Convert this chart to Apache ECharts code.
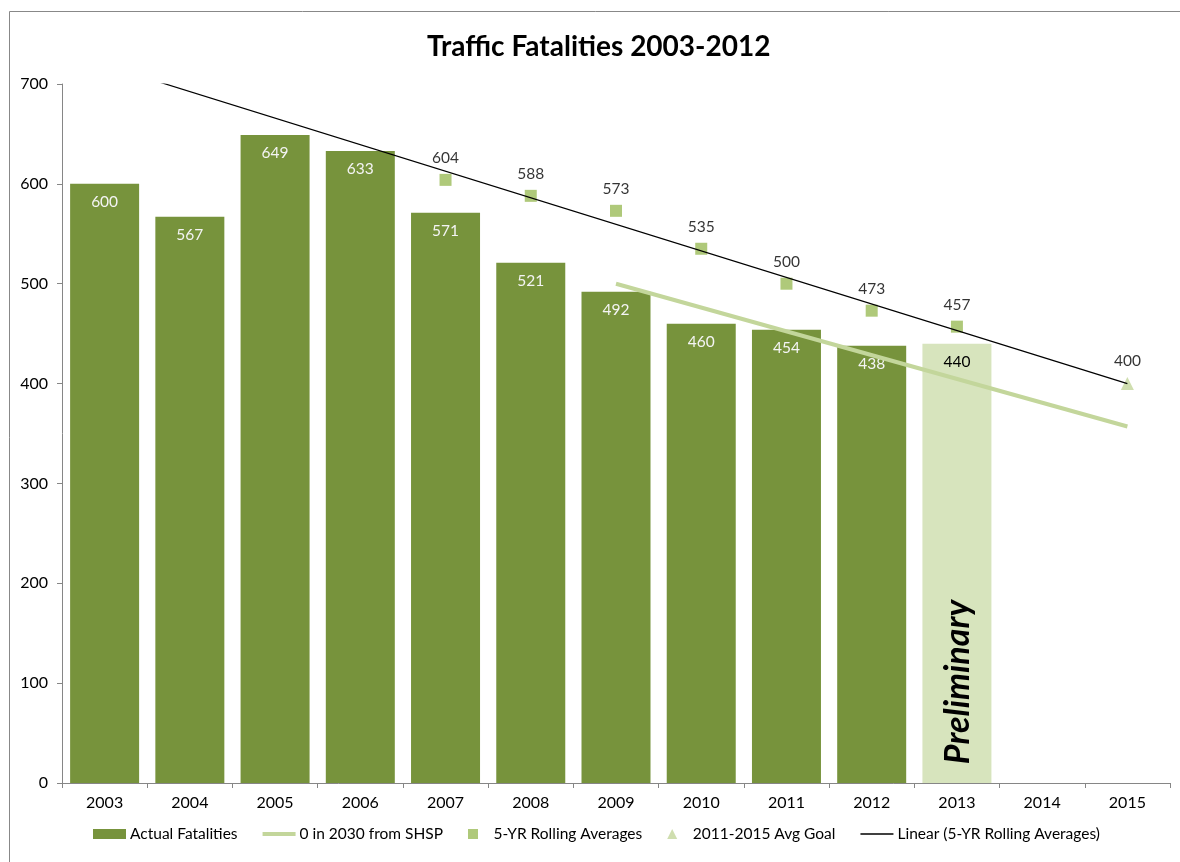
<!DOCTYPE html>
<html>
<head>
<meta charset="utf-8">
<script src="https://cdn.jsdelivr.net/npm/echarts@6/dist/echarts.min.js"></script>
<style>
html,body{margin:0;padding:0;background:#fff;}
#chart{width:1180px;height:862px;}
</style>
</head>
<body>
<div id="chart"></div>
<script>
// ---- data ----
const years = ['2003','2004','2005','2006','2007','2008','2009','2010','2011','2012','2013','2014','2015'];
const actualFatalities = [600, 567, 649, 633, 571, 521, 492, 460, 454, 438, null, null, null];
const preliminaryFatalities = [null, null, null, null, null, null, null, null, null, null, 440, null, null];
const rollingAverages = [null, null, null, null, 604, 588, 573, 535, 500, 473, 457, null, null];
const avgGoal = [null, null, null, null, null, null, null, null, null, null, null, null, 400];
// SHSP target line: read endpoints (2009 -> 2015)
const shspLine = [null, null, null, null, null, null, 500, null, null, null, null, null, 357];
// linear trend of the 5-yr averages: endpoints (clipped at top)
const trendLine = [[0, 719], [12, 400]];
const yTicks = [0, 100, 200, 300, 400, 500, 600, 700];

const FONT = 'Lato, "Open Sans", sans-serif';
const DARK = '#77933C';
const LIGHT = '#D7E4BD';
const SQUARE = '#9BBB59';
const SHSP = '#C3D69B';

const barData = actualFatalities.map((v, i) => {
  if (v != null) return v;
  if (preliminaryFatalities[i] != null) {
    return { value: preliminaryFatalities[i], itemStyle: { color: LIGHT }, label: { color: '#000' } };
  }
  return null;
});

const chart = echarts.init(document.getElementById('chart'));
chart.setOption({
  animation: false,
  backgroundColor: '#fff',
  textStyle: { fontFamily: FONT },
  title: {
    text: 'Traffic Fatalities 2003-2012',
    left: 422,
    top: 28,
    textStyle: { fontFamily: FONT, fontSize: 28, fontWeight: 'bold', color: '#000' }
  },
  grid: { left: 62, right: 10, top: 84, bottom: 79, containLabel: false },
  legend: {
    bottom: 15,
    left: 88,
    itemWidth: 33,
    itemHeight: 10,
    itemGap: 25,
    textStyle: { fontFamily: FONT, fontSize: 15.5, color: '#000', padding: [0, 0, 0, -1] },
    data: [
      { name: 'Actual Fatalities', icon: 'rect', itemStyle: { color: DARK } },
      { name: '0 in 2030 from SHSP', icon: 'path://M0,0h33v4h-33z', itemStyle: { color: SHSP, borderWidth: 0 } },
      { name: '5-YR Rolling Averages', icon: 'path://M0,0h10v10h-10z', itemStyle: { color: SQUARE } },
      { name: '2011-2015 Avg Goal', icon: 'path://M5,0L10,10L0,10z', itemStyle: { color: SHSP } },
      { name: 'Linear (5-YR Rolling Averages)', icon: 'path://M0,0h33v1.3h-33z', itemStyle: { color: '#000', borderWidth: 0 } }
    ]
  },
  xAxis: {
    type: 'category',
    data: years,
    boundaryGap: true,
    axisLine: { lineStyle: { color: '#868686', width: 1 } },
    axisTick: { show: true, interval: 0, length: 5, lineStyle: { color: '#868686' } },
    axisLabel: { fontFamily: FONT, fontSize: 16, color: '#000', margin: 12 }
  },
  yAxis: {
    type: 'value',
    min: yTicks[0],
    max: yTicks[yTicks.length - 1],
    interval: 100,
    splitLine: { show: false },
    axisLine: { show: true, lineStyle: { color: '#868686', width: 1 } },
    axisTick: { show: true, length: 5, lineStyle: { color: '#868686' } },
    axisLabel: { fontFamily: FONT, fontSize: 16, color: '#000', margin: 14 }
  },
  series: [
    {
      name: 'Actual Fatalities',
      type: 'bar',
      data: barData,
      barWidth: 69,
      itemStyle: { color: DARK },
      label: {
        show: true,
        position: 'insideTop',
        distance: 10,
        fontFamily: FONT,
        fontSize: 15.5,
        color: '#F4F4F4'
      },
      z: 1
    },
    {
      name: '0 in 2030 from SHSP',
      type: 'line',
      data: shspLine,
      connectNulls: true,
      symbol: 'none',
      lineStyle: { color: SHSP, width: 4 },
      itemStyle: { color: SHSP },
      z: 3
    },
    {
      name: '5-YR Rolling Averages',
      type: 'scatter',
      data: rollingAverages,
      symbol: 'rect',
      symbolSize: 12,
      itemStyle: { color: SQUARE },
      label: {
        show: true,
        position: 'top',
        distance: 8,
        fontFamily: FONT,
        fontSize: 15.5,
        color: '#000'
      },
      z: 4
    },
    {
      name: '2011-2015 Avg Goal',
      type: 'scatter',
      data: avgGoal,
      symbol: 'triangle',
      symbolSize: 13,
      itemStyle: { color: SHSP },
      label: {
        show: true,
        position: 'top',
        distance: 8,
        fontFamily: FONT,
        fontSize: 15.5,
        color: '#000'
      },
      z: 4
    },
    {
      name: 'Linear (5-YR Rolling Averages)',
      type: 'line',
      data: trendLine,
      symbol: 'none',
      clip: true,
      lineStyle: { color: '#000', width: 1.2 },
      itemStyle: { color: '#000' },
      z: 5
    }
  ]
});

// "Preliminary" annotation placed relative to the 2013 bar
const base = chart.convertToPixel({ xAxisIndex: 0, yAxisIndex: 0 }, [10, 0]);
chart.setOption({
  graphic: [
    {
      type: 'rect',
      shape: { x: 9.5, y: 11.5, width: 3000, height: 3000 },
      style: { fill: 'none', stroke: '#888', lineWidth: 1 },
      silent: true,
      z: -1
    },
    {
      type: 'text',
      x: base[0] + 1,
      y: base[1] - 101,
      rotation: Math.PI / 2,
      style: {
        text: 'Preliminary',
        font: 'italic bold 34px ' + FONT,
        fill: '#000',
        textAlign: 'center',
        textVerticalAlign: 'middle'
      },
      z: 10
    }
  ]
});
</script>
</body>
</html>
